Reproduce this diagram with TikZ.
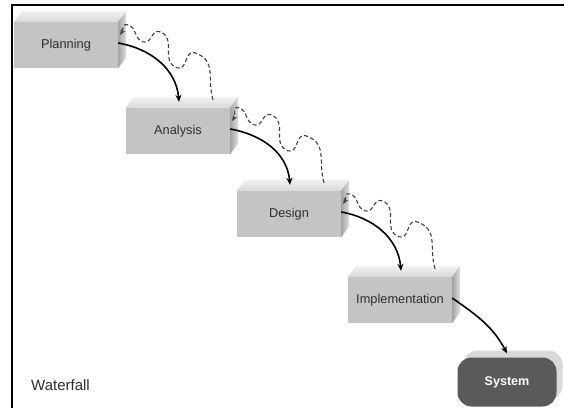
\documentclass[tikz,border=0pt]{standalone}
\usepackage{fontspec}
\setmainfont{Liberation Sans}
\usetikzlibrary{arrows.meta,shadows}
\definecolor{frontgray}{HTML}{C4C4C4}
\definecolor{topgray}{HTML}{DADADA}
\definecolor{sidegray}{HTML}{A4A4A4}
\definecolor{sysgray}{HTML}{5A5A5A}
\definecolor{labelgray}{HTML}{2E2E2E}

\begin{document}
\begin{tikzpicture}[x = 1pt, y = 1pt,
    stage/.style = {fill = frontgray, minimum width = 104pt, minimum height = 46pt, inner sep = 0pt,
        text = labelgray, font = \fontsize{12.8}{14}\selectfont},
    sysbox/.style = {fill = sysgray, rounded corners = 14pt, minimum width = 99pt, minimum height = 49pt,
        inner sep = 0pt, text = white, font = \fontsize{12.6}{14}\selectfont\bfseries,
        general shadow = {shadow xshift = 6pt, shadow yshift = 7pt, fill = black!15}},
    topface/.style = {top color = topgray!35, bottom color = topgray},
    sideface/.style = {left color = sidegray, right color = sidegray!35},
    flow/.style = {-{Stealth[length = 7pt, width = 6pt]}, line width = 1.6pt},
    back/.style = {-{Stealth[length = 6pt, width = 5pt]}, line width = 1.1pt,
        dash pattern = on 4pt off 2.5pt, draw = black!75, looseness = 1.2}]
    \useasboundingbox (0,0) rectangle (564,408);
    \draw[line width = 1.4pt] (12,0) -- (12,403) -- (564,403);

    % the stages
    \node[stage] (plan) at (66,363) {Planning};
    \node[stage] (ana) at (178,277) {Analysis};
    \node[stage] (des) at (289,194) {Design};
    \node[stage] (imp) at (400,108) {Implementation};
    \node[sysbox] (sys) at (507,26) {System};
    \node[font = \fontsize{15}{18}\selectfont, text = labelgray, anchor = west, inner sep = 0pt]
        (title) at (31,23) {Waterfall};

    % top and side of each box
    \foreach \n in {plan, ana, des, imp}{
        \shade[topface] (\n.north west) -- ++(8,11) -- ([shift = {(8,11)}]\n.north east) -- (\n.north east) -- cycle;
        \shade[sideface] (\n.north east) -- ++(8,11) -- ([shift = {(8,11)}]\n.south east) -- (\n.south east) -- cycle;
    }

    % forward flow and feedback
    \foreach \a/\b in {plan/ana, ana/des, des/imp}{
        \draw[flow] ([yshift = 2]\a.east) to[out = -10, in = 95] ([shift = {(1,6)}]\b.north);
        \draw[back] ([shift = {(35,8)}]\b.north) to[out = 106, in = -20] ++(-18,47)
            to[out = 160, in = -20] ++(-18,-15) to[out = 160, in = -20] ++(-17,36)
            to[out = 160, in = -20] ++(-17,-10) to[out = 160, in = -20] ++(-15,17)
            to[out = 160, in = 60] ([shift = {(2,10)}]\a.east);
    }
    \draw[flow] ([yshift = 2]imp.east) to[out = -35, in = 118] ([yshift = 4]sys.north);
\end{tikzpicture}
\end{document}
